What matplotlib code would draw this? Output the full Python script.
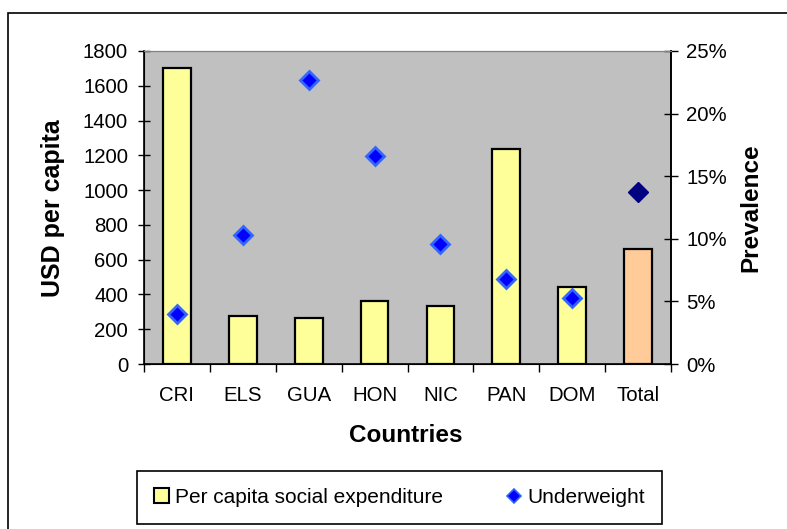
import matplotlib.pyplot as plt
from matplotlib.patches import Patch, Rectangle
from matplotlib.lines import Line2D
import numpy as np

plt.rcParams['font.family'] = ['Liberation Sans', 'DejaVu Sans']

# datos
paises = ['CRI', 'ELS', 'GUA', 'HON', 'NIC', 'PAN', 'DOM', 'Total']
gasto = [1702, 276, 262, 364, 332, 1236, 444, 659]          # USD per capita
bajo_peso = [4.0, 10.3, 22.7, 16.6, 9.6, 6.8, 5.3, 13.75]   # % prevalencia

W, H = 787, 529
fig = plt.figure(figsize=(W / 100, H / 100), dpi=100)

# marco exterior del grafico (solo se ve arriba y a la izquierda)
fig.add_artist(Rectangle((8 / W, -0.1), 1.2, 1 - 13 / H + 0.1, transform=fig.transFigure,
                         fill=False, edgecolor='black', linewidth=1.2, clip_on=False))

ax = fig.add_axes([144 / W, 1 - 364 / H, 527 / W, 313 / H])
ax.set_facecolor('#C0C0C0')

x = np.arange(len(paises))
colores = ['#FFFF99'] * (len(paises) - 1) + ['#FFCC99']
ax.bar(x, gasto, width=0.42, color=colores, edgecolor='black', linewidth=1.6, zorder=2)
ax.set_xlim(-0.5, len(paises) - 0.5)
ax.set_ylim(0, 1800)
ax.set_yticks(np.arange(0, 1801, 200))

# ticks en el eje x: marcas en los limites, etiquetas al centro
ax.set_xticks(x)
ax.set_xticklabels(paises)
ax.set_xticks(np.arange(-0.5, len(paises), 1), minor=True)
ax.tick_params(axis='x', which='major', length=0, pad=16, labelsize=14.7)
ax.tick_params(axis='x', which='minor', length=6, direction='out', width=1)
ax.tick_params(axis='y', length=9, direction='inout', width=1, pad=7, labelsize=14.7)

ax.spines['top'].set_color('#808080')
for s in ['left', 'bottom', 'right']:
    ax.spines[s].set_linewidth(1.2)

ax2 = ax.twinx()
ax2.set_ylim(0, 25)
ax2.set_yticks(np.arange(0, 26, 5))
ax2.set_yticklabels([f'{v}%' for v in range(0, 26, 5)])
ax2.tick_params(axis='y', length=10, direction='inout', width=1, pad=6, labelsize=14.7)
ax2.spines['right'].set_linewidth(1.2)
ax2.spines['top'].set_color('#808080')

n = len(paises)
ax2.plot(x[:n - 1], bajo_peso[:n - 1], linestyle='none', marker='D', markersize=9.5,
         markerfacecolor='#0000FF', markeredgecolor='#3366FF', markeredgewidth=2, zorder=3)
ax2.plot(x[n - 1:], bajo_peso[n - 1:], linestyle='none', marker='D', markersize=10.5,
         markerfacecolor='#000080', markeredgecolor='#000080', markeredgewidth=1, zorder=3)

fig.text(53 / W, 1 - 208 / H, 'USD per capita', rotation=90, ha='center', va='center',
         fontsize=18, fontweight='bold')
fig.text(751 / W, 1 - 208 / H, 'Prevalence', rotation=90, ha='center', va='center',
         fontsize=17.5, fontweight='bold')
fig.text(406 / W, 1 - 435 / H, 'Countries', ha='center', va='center',
         fontsize=17.5, fontweight='bold')

handles = [Patch(facecolor='#FFFF99', edgecolor='black', linewidth=1.5),
           Line2D([], [], linestyle='none', marker='D', markersize=7.5,
                  markerfacecolor='#0000FF', markeredgecolor='#3366FF', markeredgewidth=1.2)]
leg = fig.legend(handles, ['Per capita social expenditure', 'Underweight'],
                 loc='center', ncol=2, mode='expand', fontsize=15,
                 bbox_to_anchor=(127 / W, 1 - 520 / H, 545 / W, 45 / H),
                 handlelength=0.7, handleheight=0.7, handletextpad=0.3,
                 borderpad=0.8, fancybox=False, framealpha=1)
leg.get_frame().set_edgecolor('black')
leg.get_frame().set_linewidth(1.2)

fig.savefig('out.png', dpi=100)
